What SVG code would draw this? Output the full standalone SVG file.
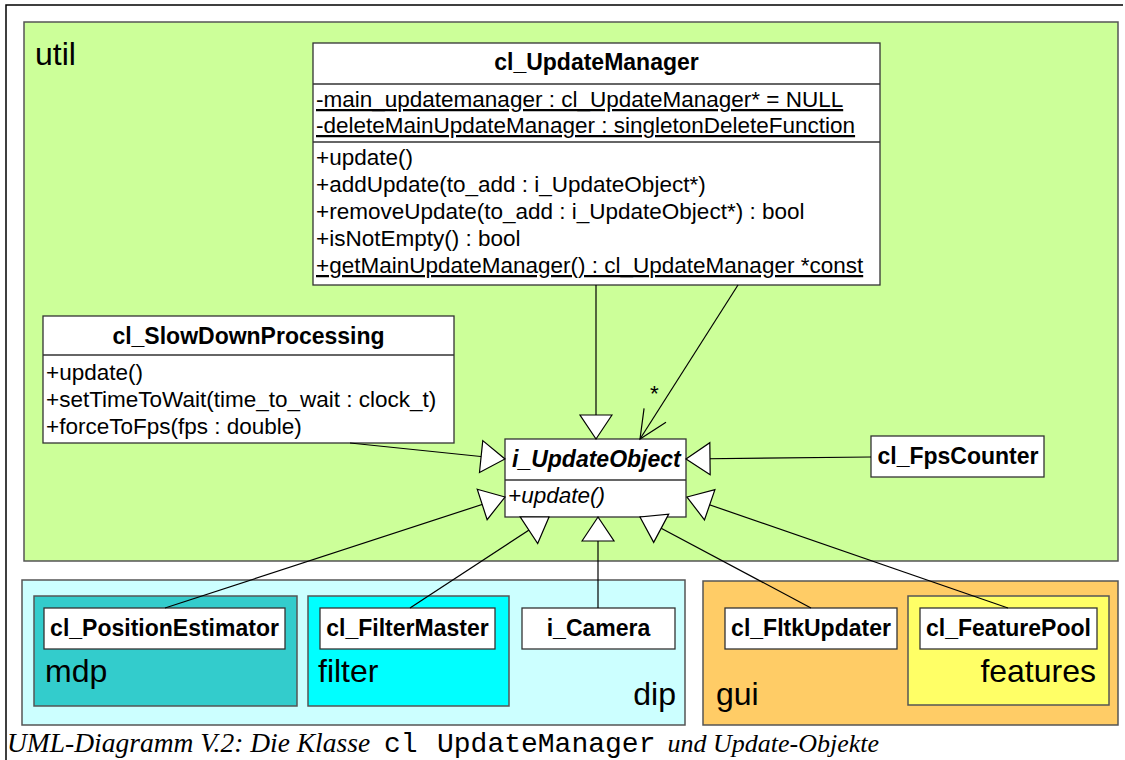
<svg xmlns="http://www.w3.org/2000/svg" width="1125" height="760" viewBox="0 0 1125 760">
<style>
.pkg{stroke:#555;stroke-width:1.5}
.box{fill:#fff;stroke:#333;stroke-width:1.3}
.sep{stroke:#333;stroke-width:1.3}
.t{font-family:"Liberation Sans",Arial,sans-serif;font-size:22.5px;fill:#000}
.b{font-weight:bold;font-size:23px}
.pl{font-family:"Liberation Sans",Arial,sans-serif;font-size:32px;fill:#000}
.conn{stroke:#000;stroke-width:1.2;fill:none}
.cap{font-family:"Liberation Serif","Times New Roman",serif;font-style:italic;font-size:27.5px;fill:#000}
.mono{font-family:"Liberation Mono","Courier New",monospace;font-style:normal;font-size:28px}
</style>
<defs>
<marker id="tri" markerUnits="userSpaceOnUse" markerWidth="30" markerHeight="40" refX="24" refY="16" orient="auto" overflow="visible">
<path d="M0,0 L24,16 L0,32 Z" fill="#fff" stroke="#000" stroke-width="1.2"/>
</marker>
<marker id="open" markerUnits="userSpaceOnUse" markerWidth="30" markerHeight="30" refX="28" refY="13" orient="auto" overflow="visible">
<path d="M0,0 L28,13 L0,26" fill="none" stroke="#000" stroke-width="1.2"/>
</marker>
</defs>
<rect x="0" y="0" width="1125" height="760" fill="#fff"/>
<path d="M6,760 V5 H1123" fill="none" stroke="#000" stroke-width="1.5"/>

<g id="pkg-util">
<rect class="pkg" x="24" y="22" width="1094" height="539" fill="#ccff99"/>
<text class="pl" x="35" y="65">util</text>
</g>
<g id="pkg-dip">
<rect class="pkg" x="22" y="580" width="663" height="145" fill="#ccffff"/>
<text class="pl" x="676" y="705" text-anchor="end">dip</text>
</g>
<g id="pkg-mdp">
<rect class="pkg" x="34" y="596" width="263" height="110" fill="#33cccc"/>
<text class="pl" x="45" y="682">mdp</text>
</g>
<g id="pkg-filter">
<rect class="pkg" x="308" y="596" width="201" height="110" fill="#00ffff"/>
<text class="pl" x="318" y="682">filter</text>
</g>
<g id="pkg-gui">
<rect class="pkg" x="703" y="581" width="415" height="144" fill="#ffcc66"/>
<text class="pl" x="716" y="705">gui</text>
</g>
<g id="pkg-features">
<rect class="pkg" x="908" y="596" width="201" height="109" fill="#ffff66"/>
<text class="pl" x="1096" y="682" text-anchor="end">features</text>
</g>

<g id="cl_UpdateManager">
<rect class="box" x="313" y="43" width="567" height="242"/>
<line class="sep" x1="313" y1="84" x2="880" y2="84"/>
<line class="sep" x1="313" y1="142" x2="880" y2="142"/>
<text class="t b" x="596.5" y="70" text-anchor="middle">cl_UpdateManager</text>
<text class="t" x="316" y="107" text-decoration="underline">-main_updatemanager : cl_UpdateManager* = NULL</text>
<text class="t" x="316" y="133" text-decoration="underline">-deleteMainUpdateManager : singletonDeleteFunction</text>
<text class="t" x="316" y="165">+update()</text>
<text class="t" x="316" y="192">+addUpdate(to_add : i_UpdateObject*)</text>
<text class="t" x="316" y="219">+removeUpdate(to_add : i_UpdateObject*) : bool</text>
<text class="t" x="316" y="246">+isNotEmpty() : bool</text>
<text class="t" x="316" y="273" text-decoration="underline">+getMainUpdateManager() : cl_UpdateManager *const</text>
</g>

<g id="cl_SlowDownProcessing">
<rect class="box" x="43" y="316" width="411" height="127"/>
<line class="sep" x1="43" y1="355" x2="454" y2="355"/>
<text class="t b" x="248.5" y="344" text-anchor="middle">cl_SlowDownProcessing</text>
<text class="t" x="46" y="380">+update()</text>
<text class="t" x="46" y="407">+setTimeToWait(time_to_wait : clock_t)</text>
<text class="t" x="46" y="434">+forceToFps(fps : double)</text>
</g>

<g id="i_UpdateObject">
<rect class="box" x="505" y="439" width="181" height="78"/>
<line class="sep" x1="505" y1="480" x2="686" y2="480"/>
<text class="t b" x="512" y="467" font-style="italic">i_UpdateObject</text>
<text class="t" x="508" y="503" font-style="italic">+update()</text>
</g>

<g id="cl_FpsCounter">
<rect class="box" x="871" y="436" width="173" height="41"/>
<text class="t b" x="958" y="464" text-anchor="middle">cl_FpsCounter</text>
</g>

<g id="cl_PositionEstimator">
<rect class="box" x="44" y="608" width="241" height="41"/>
<text class="t b" x="164.5" y="636" text-anchor="middle">cl_PositionEstimator</text>
</g>
<g id="cl_FilterMaster">
<rect class="box" x="320" y="608" width="175" height="41"/>
<text class="t b" x="407.5" y="636" text-anchor="middle">cl_FilterMaster</text>
</g>
<g id="i_Camera">
<rect class="box" x="522" y="608" width="153" height="41"/>
<text class="t b" x="598.5" y="636" text-anchor="middle">i_Camera</text>
</g>
<g id="cl_FltkUpdater">
<rect class="box" x="725" y="608" width="172" height="41"/>
<text class="t b" x="811" y="636" text-anchor="middle">cl_FltkUpdater</text>
</g>
<g id="cl_FeaturePool">
<rect class="box" x="920" y="608" width="177" height="41"/>
<text class="t b" x="1008.5" y="636" text-anchor="middle">cl_FeaturePool</text>
</g>

<g id="connectors">
<path class="conn" d="M596,285 V439" marker-end="url(#tri)"/>
<path class="conn" d="M738,285 L640,439" marker-end="url(#open)"/>
<text class="t" x="650" y="401" font-size="18px">*</text>
<path class="conn" d="M350,443 L505,459" marker-end="url(#tri)"/>
<path class="conn" d="M871,457 L686,459" marker-end="url(#tri)"/>
<path class="conn" d="M165,608 L505,497" marker-end="url(#tri)"/>
<path class="conn" d="M410,608 L549,517" marker-end="url(#tri)"/>
<path class="conn" d="M598,608 L598,517" marker-end="url(#tri)"/>
<path class="conn" d="M811,608 L640,517" marker-end="url(#tri)"/>
<path class="conn" d="M1008,608 L687,497" marker-end="url(#tri)"/>
</g>

<text class="cap" x="7" y="752">UML-Diagramm V.2: Die Klasse <tspan class="mono" x="384">cl </tspan><tspan class="mono" x="437">UpdateManager</tspan><tspan x="661" font-size="26px"> und Update-Objekte</tspan></text>
</svg>
